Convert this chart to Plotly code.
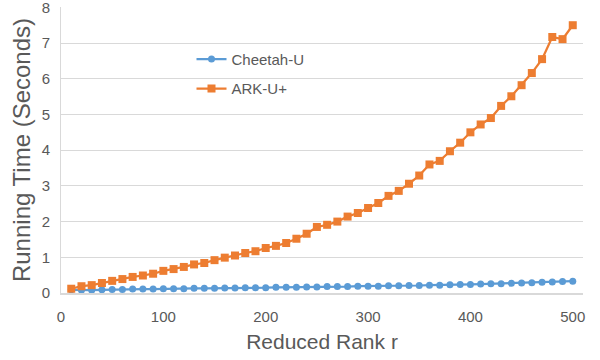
import plotly.graph_objects as go

# Reduced rank r
rank = list(range(10, 510, 10))

# Running time in seconds
cheetah_u = [0.09, 0.08, 0.08, 0.09, 0.10, 0.10, 0.11, 0.11, 0.11, 0.12,
             0.12, 0.12, 0.13, 0.13, 0.13, 0.14, 0.14, 0.15, 0.15, 0.15,
             0.16, 0.16, 0.16, 0.17, 0.17, 0.18, 0.18, 0.18, 0.19, 0.19,
             0.19, 0.20, 0.20, 0.21, 0.21, 0.22, 0.22, 0.23, 0.24, 0.24,
             0.25, 0.26, 0.26, 0.27, 0.28, 0.29, 0.30, 0.31, 0.32, 0.33]
ark_u_plus = [0.12, 0.19, 0.22, 0.28, 0.34, 0.39, 0.45, 0.49, 0.54, 0.62,
              0.67, 0.73, 0.80, 0.84, 0.92, 0.99, 1.05, 1.12, 1.17, 1.26,
              1.32, 1.40, 1.52, 1.66, 1.85, 1.91, 2.00, 2.14, 2.24, 2.38,
              2.52, 2.72, 2.86, 3.06, 3.29, 3.60, 3.70, 3.97, 4.21, 4.50,
              4.72, 4.90, 5.24, 5.51, 5.82, 6.16, 6.55, 7.17, 7.11, 7.50]

x_ticks = [0, 100, 200, 300, 400, 500]
y_ticks = [0, 1, 2, 3, 4, 5, 6, 7, 8]

BLUE = "#5B9BD5"
ORANGE = "#ED7D31"
GRID = "#D9D9D9"
TEXT = "#595959"
FONT = "Liberation Sans, Arial, sans-serif"

fig = go.Figure()
fig.add_trace(go.Scatter(
    x=rank, y=cheetah_u, name="Cheetah-U", mode="lines+markers",
    legendgroup="a",
    line=dict(color=BLUE, width=2.25),
    marker=dict(symbol="circle", size=7, color=BLUE),
))
fig.add_trace(go.Scatter(
    x=rank, y=ark_u_plus, name="ARK-U+", mode="lines+markers",
    legendgroup="b",
    line=dict(color=ORANGE, width=2.25),
    marker=dict(symbol="square", size=8, color=ORANGE),
))

fig.update_layout(
    width=600, height=360,
    margin=dict(l=61, r=17, t=7, b=67),
    paper_bgcolor="white", plot_bgcolor="white",
    font=dict(family=FONT, color=TEXT),
    legend=dict(
        x=0.25, y=0.875, xanchor="left", yanchor="top",
        bgcolor="rgba(0,0,0,0)",
        font=dict(size=15, color=TEXT, family=FONT),
        tracegroupgap=7,
    ),
    xaxis=dict(
        range=[0, 510], tickvals=x_ticks, ticks="",
        showgrid=False, zeroline=False, automargin=False,
        showline=True, linecolor=GRID, linewidth=2,
        tickfont=dict(size=15, color=TEXT),
        ticklabelstandoff=9,
        ticklabeloverflow="allow",
        title=dict(text="Reduced Rank r", font=dict(size=21, color=TEXT), standoff=10),
    ),
    yaxis=dict(
        range=[0, 8.01], tickvals=y_ticks, ticks="",
        showgrid=True, gridcolor=GRID, gridwidth=1,
        zeroline=False, automargin=False,
        showline=True, linecolor=GRID, linewidth=1,
        tickfont=dict(size=15, color=TEXT),
        ticklabelstandoff=7,
        ticklabeloverflow="allow",
        title=dict(text="Running Time (Seconds)", font=dict(size=24, color=TEXT), standoff=4),
    ),
)

fig.write_html("out.html")
